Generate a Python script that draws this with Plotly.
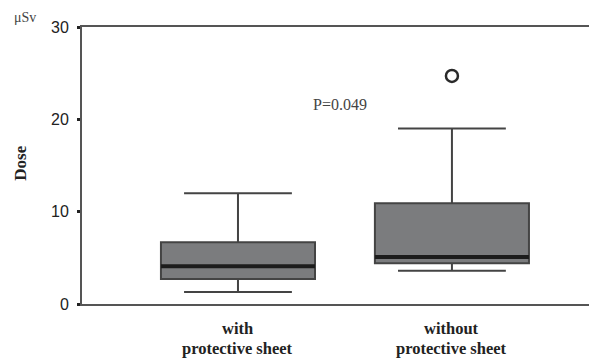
import plotly.graph_objects as go

categories = ["with<br>protective sheet", "without<br>protective sheet"]
q1_vals = [2.7, 4.4]
median_vals = [4.1, 5.1]
q3_vals = [6.7, 10.9]
lower_whisker = [1.3, 3.6]
upper_whisker = [12.0, 19.0]
outlier_cat = [1]
outlier_vals = [24.7]
y_ticks = [0, 10, 20, 30]
p_text = "P=0.049"

positions = list(range(len(categories)))
box_w = 0.72

fig = go.Figure()
for i, cat in enumerate(categories):
    fig.add_trace(go.Box(
        x=[positions[i]], q1=[q1_vals[i]], median=[median_vals[i]], q3=[q3_vals[i]],
        lowerfence=[lower_whisker[i]], upperfence=[upper_whisker[i]],
        width=box_w, whiskerwidth=0.70,
        fillcolor="#7b7c7e", line=dict(color="#444444", width=2),
        boxpoints=False, showlegend=False, hoverinfo="skip",
    ))
    fig.add_trace(go.Scatter(
        x=[positions[i] - box_w / 2, positions[i] + box_w / 2],
        y=[median_vals[i], median_vals[i]],
        mode="lines", line=dict(color="#1c1c1c", width=4),
        showlegend=False, hoverinfo="skip",
    ))

fig.add_trace(go.Scatter(
    x=outlier_cat, y=outlier_vals, mode="markers",
    marker=dict(symbol="circle-open", size=12, color="#2a2a2a", line=dict(width=2.5, color="#2a2a2a")),
    showlegend=False, hoverinfo="skip",
))

# category labels: two tightly spaced lines under each box
cat_annotations = []
for i, cat in enumerate(categories):
    for j, line in enumerate(cat.split("<br>")):
        cat_annotations.append(dict(
            text="<b>" + line + "</b>", x=positions[i], y=0, xref="x", yref="paper",
            xanchor="center", yanchor="middle", yshift=-24 - 20 * j, showarrow=False,
            borderpad=0,
            font=dict(family="Liberation Serif", size=16.5, color="#222222"),
        ))

# page body has an 8px default margin; compensate
fig.update_layout(
    width=589, height=350,
    margin=dict(l=74, r=0, t=19, b=54),
    plot_bgcolor="white", paper_bgcolor="white",
    xaxis=dict(
        range=[-0.729, 1.678], tickvals=positions, showticklabels=False, automargin=False,
        showline=True, mirror=True, linecolor="#555555", linewidth=2,
        showgrid=False, zeroline=False, ticks="",
    ),
    yaxis=dict(
        range=[0, 30], tickvals=y_ticks, automargin=False,
        showline=True, linecolor="#555555", linewidth=2,
        showgrid=False, zeroline=False, ticks="outside", ticklen=3, tickwidth=3, tickcolor="#222222",
        ticklabelstandoff=5,
        tickfont=dict(family="Liberation Sans", size=16, color="#222222"),
    ),
    annotations=[
        dict(text=p_text, x=0.477, y=21.6, xref="x", yref="y", showarrow=False, xanchor="center",
             font=dict(family="Liberation Serif", size=16, color="#444444")),
        dict(text="<b>Dose</b>", x=-0.120, y=0.507, xref="paper", yref="paper", showarrow=False,
             xanchor="center", yanchor="middle",
             textangle=-90, font=dict(family="Liberation Serif", size=17, color="#222222")),
        dict(text="μSv", x=-0.110, y=1.036, xref="paper", yref="paper", showarrow=False,
             xanchor="center", yanchor="middle",
             font=dict(family="Liberation Serif", size=14, color="#444444")),
    ] + cat_annotations,
)

fig.write_html("out.html")
